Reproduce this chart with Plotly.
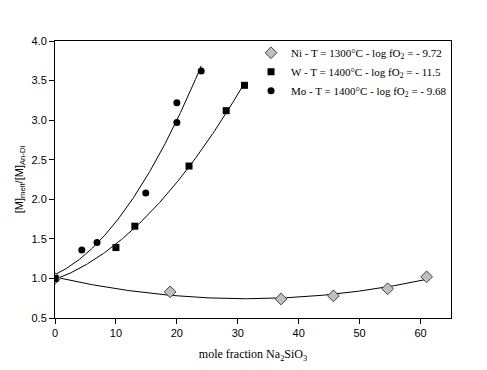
import numpy as np
import plotly.graph_objects as go

# Data
ni_x = [0, 18.9, 37.1, 45.7, 54.6, 61.0]
ni_y = [1.0, 0.83, 0.74, 0.78, 0.87, 1.02]
w_x = [0, 10.0, 13.1, 22.0, 28.1, 31.1]
w_y = [1.0, 1.39, 1.66, 2.42, 3.12, 3.44]
mo_x = [0, 4.4, 6.9, 14.9, 20.0, 20.0, 24.0]
mo_y = [1.0, 1.36, 1.455, 2.08, 2.97, 3.22, 3.62]

labels = [
    "Ni - T = 1300°C - log fO<sub>2</sub> = - 9.72",
    "W - T = 1400°C - log fO<sub>2</sub> = - 11.5",
    "Mo - T = 1400°C - log fO<sub>2</sub> = - 9.68",
]

fig = go.Figure()

def fit_curve(xs, ys):
    c = np.polyfit(xs, ys, 2)
    xx = np.linspace(min(xs), max(xs), 200)
    return xx, np.polyval(c, xx)

for xs, ys in [(ni_x, ni_y), (w_x, w_y), (mo_x, mo_y)]:
    xx, yy = fit_curve(xs, ys)
    fig.add_trace(go.Scatter(x=xx, y=yy, mode="lines", line=dict(color="black", width=1),
                             showlegend=False, hoverinfo="skip"))

fig.add_trace(go.Scatter(x=ni_x, y=ni_y, mode="markers", name=labels[0],
                         marker=dict(symbol="diamond", size=9, color="#c0c0c0",
                                     line=dict(color="#404040", width=1))))
fig.add_trace(go.Scatter(x=w_x, y=w_y, mode="markers", name=labels[1],
                         marker=dict(symbol="square", size=7, color="black")))
fig.add_trace(go.Scatter(x=mo_x, y=mo_y, mode="markers", name=labels[2],
                         marker=dict(symbol="circle", size=7, color="black")))

axis_common = dict(showline=True, linecolor="black", linewidth=1, mirror=True,
                   ticks="outside", ticklen=5, tickcolor="black", showgrid=False,
                   zeroline=False, automargin=False,
                   tickfont=dict(family="Arial, Liberation Sans", size=11, color="black"))

# page body has an 8px default margin, so the figure is sized/placed to compensate
fig.update_layout(
    width=479, height=362,
    margin=dict(l=47, r=36, t=33, b=52),
    paper_bgcolor="white", plot_bgcolor="white",
    xaxis=dict(range=[0, 65], tickvals=[0, 10, 20, 30, 40, 50, 60],
               title=dict(text="mole fraction Na<sub>2</sub>SiO<sub>3</sub>",
                          font=dict(family="Times New Roman, Liberation Serif", size=12, color="black"),
                          standoff=11),
               **axis_common),
    yaxis=dict(range=[0.5, 4.0], tickvals=[0.5, 1.0, 1.5, 2.0, 2.5, 3.0, 3.5, 4.0], tickformat=".1f",
               title=dict(text="[M]<sub>melt</sub>/[M]<sub>An-Di</sub>",
                          font=dict(family="Arial, Liberation Sans", size=11, color="black"),
                          standoff=5),
               **axis_common),
    legend=dict(x=0.495, y=1.01, xanchor="left", yanchor="top", bgcolor="rgba(0,0,0,0)",
                font=dict(family="Times New Roman, Liberation Serif", size=11, color="black"),
                tracegroupgap=0, itemsizing="trace"),
    showlegend=True,
)

fig.write_html("out.html")
